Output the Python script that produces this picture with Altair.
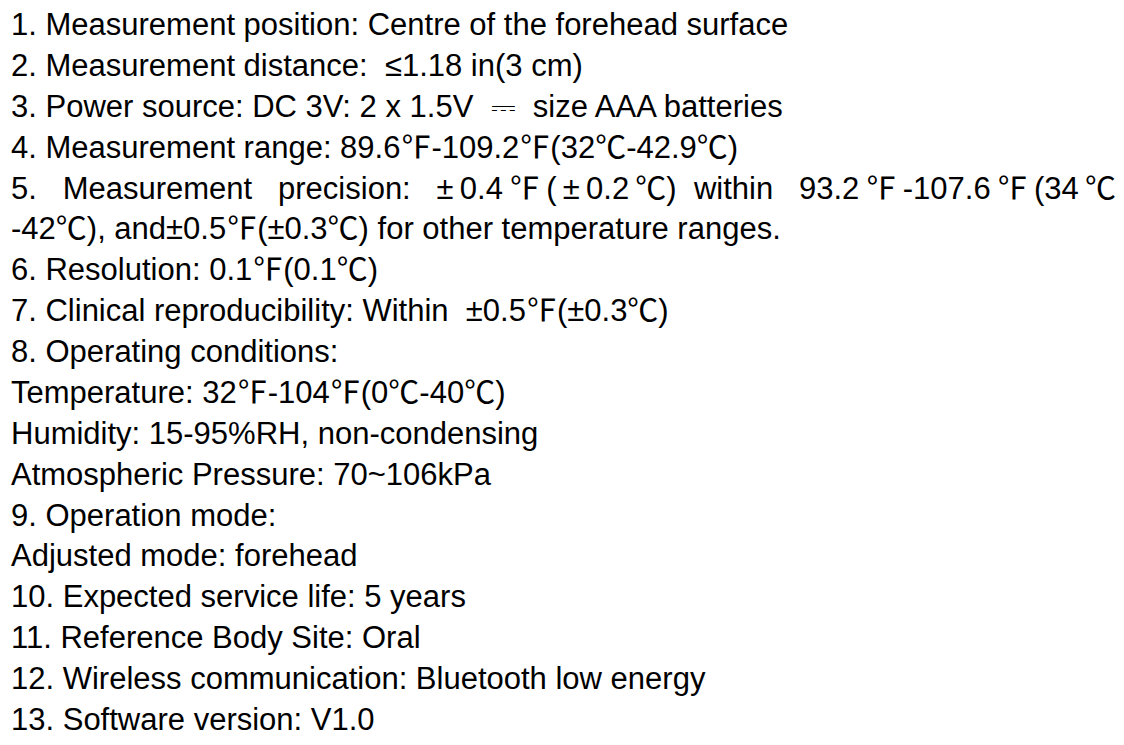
import altair as alt
import pandas as pd

NB = "\u00a0"
TS = "\u2009"

lines = [
    "1. Measurement position: Centre of the forehead surface",
    "2. Measurement distance:" + NB * 2 + "\u22641.18 in(3 cm)",
    "3. Power source: DC 3V: 2 x 1.5V" + NB * 2 + "\u2393" + NB * 2 + "size AAA batteries",
    "4. Measurement range: 89.6\u2109-109.2\u2109(32\u2103-42.9\u2103)",
    "5." + NB * 3 + "Measurement" + NB * 3 + "precision:" + NB * 3
    + "\u00b1" + TS + "0.4" + TS + "\u2109" + TS + "(" + TS + "\u00b1" + TS + "0.2" + TS + "\u2103)"
    + NB * 2 + "within" + NB * 3 + "93.2" + TS + "\u2109" + TS + "-107.6" + TS + "\u2109" + TS
    + "(34" + TS + "\u2103",
    "-42\u2103), and\u00b10.5\u2109(\u00b10.3\u2103) for other temperature ranges.",
    "6. Resolution: 0.1\u2109(0.1\u2103)",
    "7. Clinical reproducibility: Within" + NB * 2 + "\u00b10.5\u2109(\u00b10.3\u2103)",
    "8. Operating conditions:",
    "Temperature: 32\u2109-104\u2109(0\u2103-40\u2103)",
    "Humidity: 15-95%RH, non-condensing",
    "Atmospheric Pressure: 70~106kPa",
    "9. Operation mode:",
    "Adjusted mode: forehead",
    "10. Expected service life: 5 years",
    "11. Reference Body Site: Oral",
    "12. Wireless communication: Bluetooth low energy",
    "13. Software version: V1.0",
]
line_index = list(range(len(lines)))

df = pd.DataFrame({"i": line_index, "text": lines})

chart = (
    alt.Chart(df)
    .mark_text(
        align="left",
        baseline="alphabetic",
        fontSize=31,
        font="'Liberation Sans', Arial, 'Noto Sans CJK SC', sans-serif",
        color="#000000",
    )
    .encode(
        x=alt.value(3),
        y=alt.Y("i:Q", scale=alt.Scale(domain=[0, 17], range=[27, 722]), axis=None),
        text="text:N",
    )
    .properties(
        width=1108,
        height=729,
        padding=0,
        background="white",
        autosize=alt.AutoSizeParams(type="fit", contains="padding"),
    )
    .configure_view(stroke=None)
)

chart.save("out.html", embed_options={"renderer": "svg", "actions": False})
